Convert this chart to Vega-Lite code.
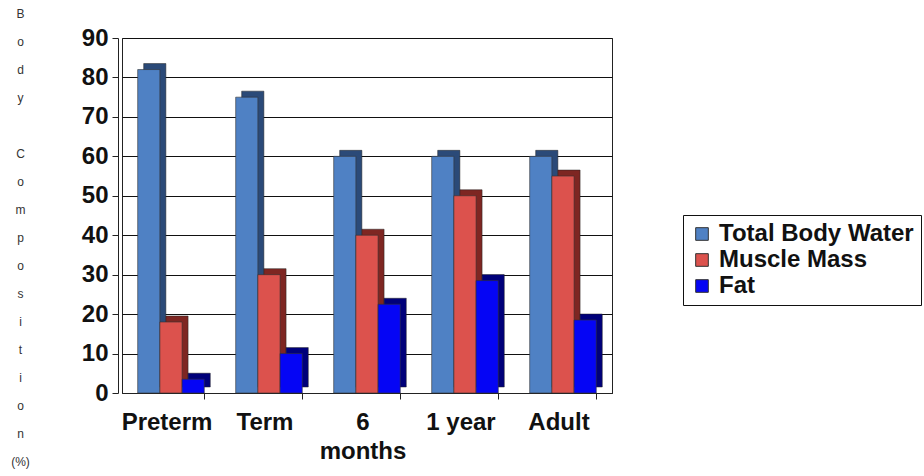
{
  "$schema": "https://vega.github.io/schema/vega-lite/v6.json",
  "width": 490,
  "height": 355,
  "autosize": {"type": "none"},
  "padding": {"left": 122, "top": 38, "right": 312, "bottom": 83},
  "background": "white",
  "config": {
    "font": "Liberation Sans",
    "view": {"stroke": "#222", "strokeWidth": 1}
  },
  "data": {
    "values": [
      {"Age": "Preterm", "Series": "Total Body Water", "value": 82},
      {"Age": "Preterm", "Series": "Muscle Mass", "value": 18},
      {"Age": "Preterm", "Series": "Fat", "value": 3.5},
      {"Age": "Term", "Series": "Total Body Water", "value": 75},
      {"Age": "Term", "Series": "Muscle Mass", "value": 30},
      {"Age": "Term", "Series": "Fat", "value": 10},
      {"Age": "6 months", "Series": "Total Body Water", "value": 60},
      {"Age": "6 months", "Series": "Muscle Mass", "value": 40},
      {"Age": "6 months", "Series": "Fat", "value": 22.5},
      {"Age": "1 year", "Series": "Total Body Water", "value": 60},
      {"Age": "1 year", "Series": "Muscle Mass", "value": 50},
      {"Age": "1 year", "Series": "Fat", "value": 28.5},
      {"Age": "Adult", "Series": "Total Body Water", "value": 60},
      {"Age": "Adult", "Series": "Muscle Mass", "value": 55},
      {"Age": "Adult", "Series": "Fat", "value": 18.5}
    ]
  },
  "encoding": {
    "x": {
      "field": "Age",
      "type": "nominal",
      "sort": ["Preterm", "Term", "6 months", "1 year", "Adult"],
      "scale": {"paddingInner": 0.32, "paddingOuter": 0.16},
      "axis": {
        "title": null,
        "labelAngle": 0,
        "labelFontSize": 24,
        "labelFontWeight": "bold",
        "labelColor": "#111",
        "labelPadding": 11,
        "labelOffset": -4,
        "labelLineHeight": 29,
        "labelExpr": "datum.label == '6 months' ? ['6', 'months'] : datum.label",
        "bandPosition": 1,
        "tickSize": 6,
        "tickColor": "#222",
        "domainColor": "#222",
        "grid": false
      }
    },
    "y": {
      "field": "value",
      "type": "quantitative",
      "scale": {"domain": [0, 90], "nice": false},
      "axis": {
        "values": [0, 10, 20, 30, 40, 50, 60, 70, 80, 90],
        "offset": 4,
        "grid": true,
        "gridColor": "#111",
        "gridWidth": 1,
        "gridOpacity": 1,
        "labelFontSize": 24,
        "labelFontWeight": "bold",
        "labelColor": "#111",
        "labelPadding": 4,
        "tickSize": 6,
        "tickColor": "#222",
        "domainColor": "#222",
        "title": ["B", "o", "d", "y", "\u200b", "C", "o", "m", "p", "o", "s", "i", "t", "i", "o", "n", "(%)"],
        "titleAngle": 0,
        "titleFontSize": 12,
        "titleFontWeight": "normal",
        "titleColor": "#333",
        "titleLineHeight": 28,
        "titleAlign": "center",
        "titleBaseline": "top",
        "titleX": -98,
        "titleY": -30
      }
    }
  },
  "layer": [
    {
      "mark": {"type": "bar", "yOffset": -6, "y2Offset": 6, "stroke": "#222", "strokeWidth": 0.5},
      "encoding": {
        "xOffset": {
          "field": "Series",
          "type": "nominal",
          "sort": ["Total Body Water", "Muscle Mass", "Fat"],
          "scale": {"paddingInner": 0, "paddingOuter": 0, "range": [6, 72.6]}
        },
        "color": {
          "field": "Series",
          "type": "nominal",
          "scale": {
            "domain": ["Total Body Water", "Muscle Mass", "Fat"],
            "range": ["#2b4a78", "#7e2622", "#00007a"]
          },
          "legend": null
        }
      }
    },
    {
      "mark": {"type": "bar", "stroke": "#333", "strokeWidth": 0.6},
      "encoding": {
        "xOffset": {
          "field": "Series",
          "type": "nominal",
          "sort": ["Total Body Water", "Muscle Mass", "Fat"],
          "scale": {"paddingInner": 0, "paddingOuter": 0, "range": [0, 66.6]}
        },
        "color": {
          "field": "Series",
          "type": "nominal",
          "scale": {
            "domain": ["Total Body Water", "Muscle Mass", "Fat"],
            "range": ["#4f81c4", "#dc524d", "#0505f5"]
          },
          "legend": {
            "title": null,
            "orient": "none",
            "legendX": 561,
            "legendY": 177,
            "strokeColor": "#111",
            "padding": 7,
            "symbolType": "square",
            "symbolSize": 160,
            "symbolStrokeColor": "#333",
            "symbolStrokeWidth": 1,
            "symbolOpacity": 1,
            "labelFontSize": 24,
            "labelFontWeight": "bold",
            "labelColor": "#111",
            "labelOffset": 5,
            "rowPadding": 2,
            "labelLimit": 400
          }
        }
      }
    }
  ],
  "resolve": {"scale": {"color": "independent", "xOffset": "independent"}}
}
